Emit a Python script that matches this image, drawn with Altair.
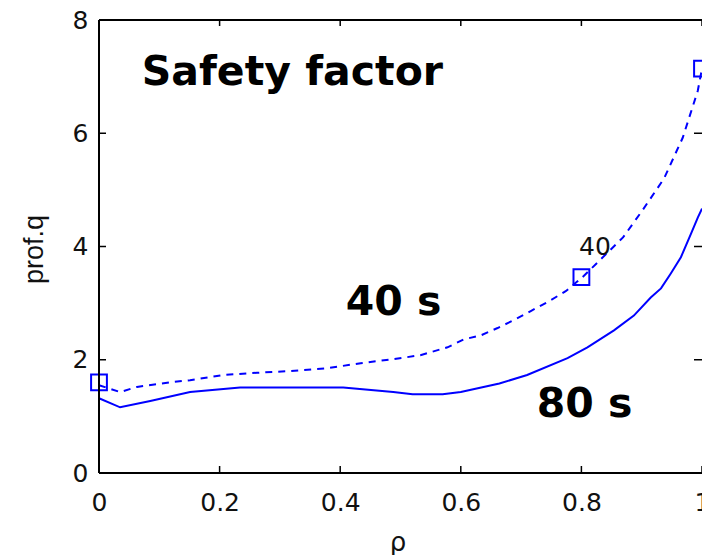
import altair as alt
import pandas as pd

# ---- data ----
rho_40 = [0.0, 0.035, 0.063, 0.118, 0.151, 0.206, 0.262, 0.317, 0.379, 0.434, 0.488,
          0.533, 0.578, 0.605, 0.633, 0.661, 0.688, 0.716, 0.744, 0.774, 0.802, 0.827,
          0.869, 0.902, 0.937, 0.968, 0.993, 1.0]
q_40 = [1.55, 1.43, 1.52, 1.60, 1.64, 1.73, 1.77, 1.80, 1.85, 1.94, 2.01,
        2.08, 2.22, 2.36, 2.43, 2.56, 2.70, 2.86, 3.02, 3.21, 3.46, 3.72,
        4.16, 4.65, 5.20, 5.92, 6.75, 7.14]

rho_80 = [0.0, 0.035, 0.085, 0.151, 0.234, 0.405, 0.488, 0.52, 0.57, 0.6, 0.664,
          0.71, 0.777, 0.81, 0.854, 0.887, 0.915, 0.932, 0.948, 0.965, 0.982, 0.993, 1.0]
q_80 = [1.32, 1.16, 1.27, 1.43, 1.51, 1.51, 1.43, 1.39, 1.39, 1.43, 1.58,
        1.73, 2.03, 2.22, 2.52, 2.78, 3.10, 3.26, 3.52, 3.81, 4.23, 4.51, 4.67]

marker_rho = [0.0, 0.8, 1.0]
marker_q = [1.60, 3.46, 7.14]

x_ticks = [0, 0.2, 0.4, 0.6, 0.8, 1.0]
y_ticks = [0, 2, 4, 6, 8]

big_text = ["Safety factor", "40 s", "80 s"]
big_rho = [0.071, 0.409, 0.726]
big_q = [6.85, 2.79, 0.99]

small_text = ["40"]
small_rho = [0.796]
small_q = [3.85]

W, H = 603, 453
BLUE = "#0000ff"

xs = alt.Scale(domain=[0, 1], nice=False, zero=False)
ys = alt.Scale(domain=[0, 8], nice=False, zero=False)

df40 = pd.DataFrame({"rho": rho_40, "q": q_40})
df80 = pd.DataFrame({"rho": rho_80, "q": q_80})
dfm = pd.DataFrame({"rho": marker_rho, "q": marker_q})
dfxt = pd.DataFrame({"rho": x_ticks})
dfyt = pd.DataFrame({"q": y_ticks})
dfbig = pd.DataFrame({"rho": big_rho, "q": big_q, "label": big_text})
dfsmall = pd.DataFrame({"rho": small_rho, "q": small_q, "label": small_text})

x_axis = alt.Axis(values=x_ticks, format="~g", title="ρ", grid=False, domain=False,
                  ticks=False, labelFont="DejaVu Sans", labelFontSize=25,
                  labelColor="#111", labelPadding=17, labelFlush=False,
                  titleFont="DejaVu Sans", titleFontSize=26, titleFontWeight="normal",
                  titleColor="#111", titleX=W / 2 - 3, titleY=77,
                  titleBaseline="alphabetic", titleAnchor="middle")
y_axis = alt.Axis(values=y_ticks, format="~g", title="prof.q", grid=False, domain=False,
                  ticks=False, labelFont="DejaVu Sans", labelFontSize=25,
                  labelColor="#111", labelPadding=11, labelFlush=False,
                  titleFont="Liberation Sans", titleFontSize=27, titleFontWeight="normal",
                  titleColor="#111", titleX=-57, titleY=229, titleAngle=270,
                  titleBaseline="alphabetic", titleAlign="center")


def X():
    return alt.X("rho:Q", scale=xs, axis=x_axis)


def Y():
    return alt.Y("q:Q", scale=ys, axis=y_axis)


line40 = alt.Chart(df40).mark_line(color=BLUE, strokeWidth=2, strokeDash=[7, 6]).encode(
    x=X(), y=Y(), order="rho:Q")
line80 = alt.Chart(df80).mark_line(color=BLUE, strokeWidth=2).encode(
    x=X(), y=Y(), order="rho:Q")
markers = alt.Chart(dfm).mark_point(shape="square", size=250, filled=False,
                                    color=BLUE, strokeWidth=2, opacity=1).encode(
    x=X(), y=Y())

# frame (left, bottom, top)
frame_left = alt.Chart(dfyt).mark_rule(color="black", strokeWidth=2).encode(
    x=alt.value(0), y=alt.value(0), y2=alt.value(H))
frame_bottom = alt.Chart(dfyt).mark_rule(color="black", strokeWidth=2).encode(
    x=alt.value(0), x2=alt.value(W), y=alt.value(H))
frame_top = alt.Chart(dfyt).mark_rule(color="black", strokeWidth=2).encode(
    x=alt.value(0), x2=alt.value(W), y=alt.value(0))

# inward ticks on all sides
tick_bottom = alt.Chart(dfxt).mark_rule(color="black", strokeWidth=1.5).encode(
    x=X(), y=alt.value(H), y2=alt.value(H - 7))
tick_top = alt.Chart(dfxt).mark_rule(color="black", strokeWidth=1.5).encode(
    x=X(), y=alt.value(0), y2=alt.value(6))
tick_left = alt.Chart(dfyt).mark_rule(color="black", strokeWidth=1.5).encode(
    y=Y(), x=alt.value(0), x2=alt.value(7))
tick_right = alt.Chart(dfyt).mark_rule(color="black", strokeWidth=1.5).encode(
    y=Y(), x=alt.value(W), x2=alt.value(W - 8))

big_labels = alt.Chart(dfbig).mark_text(font="DejaVu Sans", fontWeight="bold", fontSize=41,
                                        align="left", baseline="alphabetic",
                                        color="black").encode(
    x=X(), y=Y(), text="label:N")
small_labels = alt.Chart(dfsmall).mark_text(font="DejaVu Sans", fontSize=25,
                                            align="left", baseline="alphabetic",
                                            color="#111").encode(
    x=X(), y=Y(), text="label:N")

chart = alt.layer(
    line40, line80, markers,
    frame_left, frame_bottom, frame_top,
    tick_bottom, tick_top, tick_left, tick_right,
    big_labels, small_labels,
).properties(
    width=W, height=H,
    autosize=alt.AutoSizeParams(type="none"),
    padding={"left": 99, "top": 20, "right": 0, "bottom": 82},
    background="white",
).configure_view(stroke=None)

chart.save("out.html", embed_options={"renderer": "svg", "actions": False})
